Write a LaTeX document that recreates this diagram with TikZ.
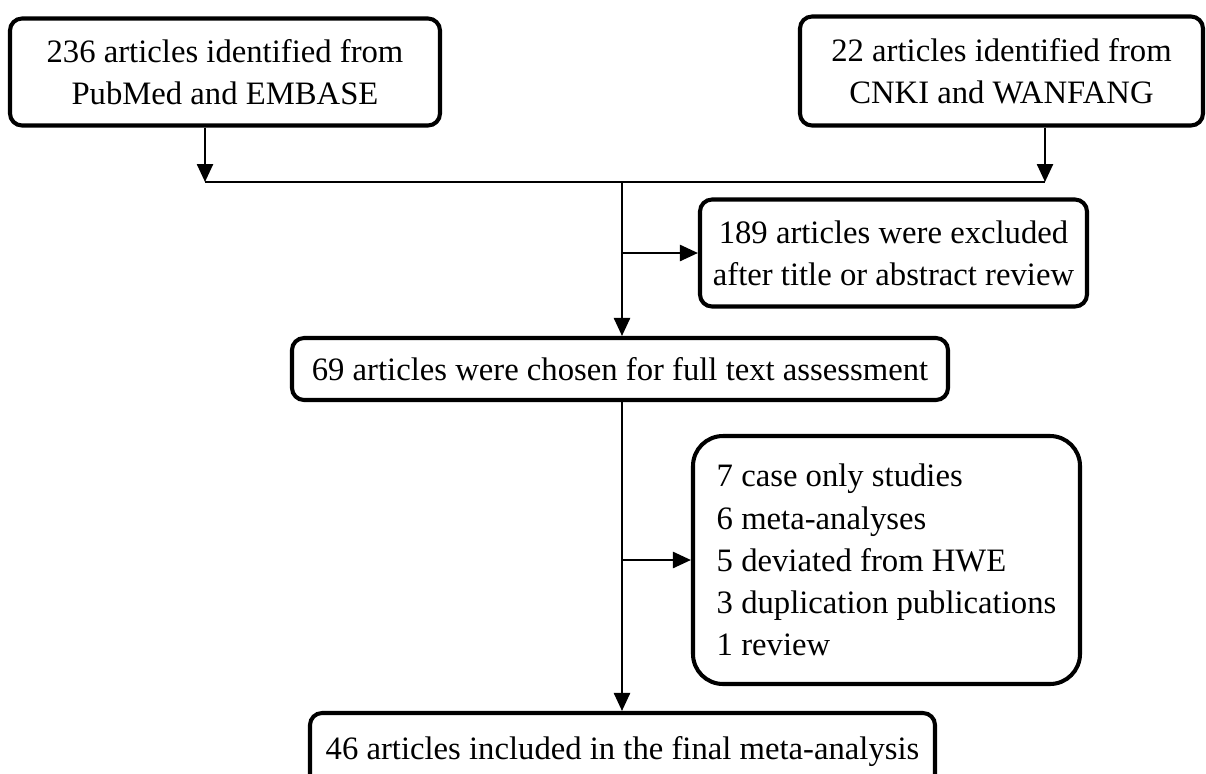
\documentclass[tikz,border=0pt]{standalone}
\usepackage{fontspec}
\setmainfont{Liberation Serif}
\usetikzlibrary{arrows.meta,positioning}

\begin{document}
\begin{tikzpicture}[
    x=1cm,y=1cm,
    rec/.style={draw=black,line width=1.15pt,rounded corners=1.2mm,fill=white,
                align=center,inner sep=0pt,font=\fontsize{9.3}{12}\selectfont},
    excl/.style={rec,rounded corners=3mm,align=left},
    arr/.style={-{Triangle[length=1.8mm,width=1.6mm]},line width=.7pt},
    jn/.style={line width=.7pt}
  ]
    \useasboundingbox (0,0) rectangle (12.06,-7.73);
    \node[rec,minimum width=4.30cm,minimum height=1.07cm] (pub) at (2.25,-0.72) {236 articles identified from\\PubMed and EMBASE};
    \node[rec,minimum width=4.03cm,minimum height=1.09cm] (cnki) at (10.015,-0.71) {22 articles identified from\\CNKI and WANFANG};
    \node[rec,minimum width=3.87cm,minimum height=1.07cm] (ex1) at (8.935,-2.53) {189 articles were excluded\\after title or abstract review};
    \node[rec,minimum width=6.56cm,minimum height=0.62cm] (full) at (6.20,-3.69) {69 articles were chosen for full text assessment};
    \node[excl,minimum width=3.87cm,minimum height=2.48cm] (ex2) at (8.865,-5.60) {7 case only studies\\6 meta-analyses\\5 deviated from HWE\\3 duplication publications\\1 review};
    \node[rec,minimum width=6.25cm,minimum height=0.78cm] (final) at (6.225,-7.52) {46 articles included in the final meta-analysis};

    \coordinate (jl) at (2.05,-1.82);
    \coordinate (jr) at (10.45,-1.82);
    \coordinate (jm) at (6.22,-1.82);
    \draw[arr] (pub.south -| jl) -- (jl);
    \draw[arr] (cnki.south -| jr) -- (jr);
    \draw[jn] (jl) -- (jr);
    \draw[arr] (jm) -- (jm |- full.north);
    \draw[arr] (jm |- ex1.west) -- (ex1.west);
    \draw[arr] (jm |- full.south) -- (jm |- final.north);
    \draw[arr] (jm |- ex2.west) -- (ex2.west);
\end{tikzpicture}
\end{document}
